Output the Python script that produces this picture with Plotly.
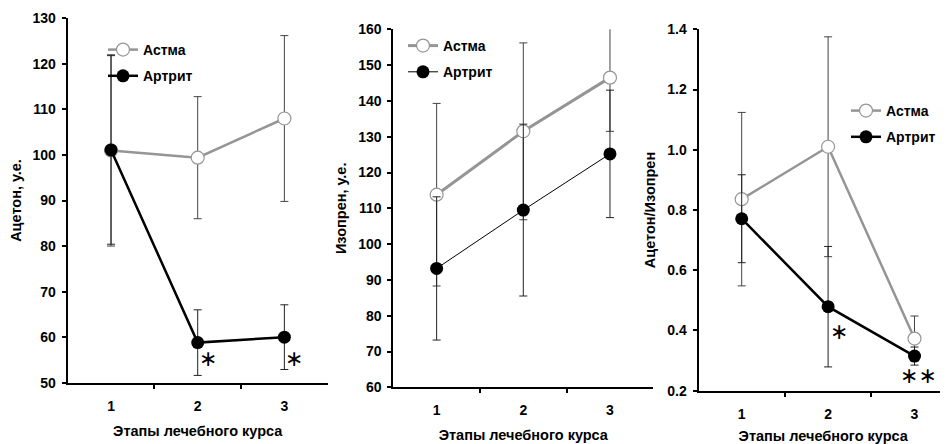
import plotly.graph_objects as go

stages = [1, 2, 3]
stage_labels = ["1", "2", "3"]

aceton_asthma = [101.0, 99.4, 108.0]
aceton_asthma_err = [21.0, 13.4, 18.2]
aceton_arthritis = [101.1, 58.8, 60.0]
aceton_arthritis_err = [20.7, 7.2, 7.1]

isoprene_asthma = [113.8, 131.5, 146.5]
isoprene_asthma_err = [25.5, 24.7, 15.0]
isoprene_arthritis = [93.2, 109.5, 125.2]
isoprene_arthritis_err = [20.0, 24.0, 17.8]

ratio_asthma = [0.836, 1.01, 0.373]
ratio_asthma_err = [0.288, 0.365, 0.075]
ratio_arthritis = [0.771, 0.479, 0.315]
ratio_arthritis_err = [0.146, 0.200, 0.030]

series_names = ["Астма", "Артрит"]
x_title = "Этапы лечебного курса"
y_titles = ["Ацетон, у.е.", "Изопрен, у.е.", "Ацетон/Изопрен"]

# the page body has an 8px margin, so the figure is drawn 8px in from the window edge
OFF = 8
W, H = 948 - OFF, 444 - OFF
GRAY = "#959595"
FONT = "Liberation Sans, Arial, sans-serif"

fig = go.Figure()


def add_pair(xa, ya, leg, a_vals, a_err, b_vals, b_err, a_w, b_w):
    fig.add_trace(go.Scatter(
        x=stages, y=a_vals, name=series_names[0], mode="lines+markers",
        xaxis=xa, yaxis=ya, legend=leg, legendgroup=leg + "a",
        line=dict(color=GRAY, width=a_w),
        marker=dict(symbol="circle", size=13, color="white", line=dict(color=GRAY, width=1.2)),
        error_y=dict(type="data", array=a_err, symmetric=True, color="#444", thickness=1, width=4),
    ))
    fig.add_trace(go.Scatter(
        x=stages, y=b_vals, name=series_names[1], mode="lines+markers",
        xaxis=xa, yaxis=ya, legend=leg, legendgroup=leg + "b",
        line=dict(color="black", width=b_w),
        marker=dict(symbol="circle", size=13, color="black"),
        error_y=dict(type="data", array=b_err, symmetric=True, color="#222", thickness=1, width=4),
    ))


add_pair("x", "y", "legend", aceton_asthma, aceton_asthma_err, aceton_arthritis, aceton_arthritis_err, 2.5, 2.5)
add_pair("x2", "y2", "legend2", isoprene_asthma, isoprene_asthma_err, isoprene_arthritis, isoprene_arthritis_err, 3, 1)
add_pair("x3", "y3", "legend3", ratio_asthma, ratio_asthma_err, ratio_arthritis, ratio_arthritis_err, 2.5, 2.5)

# panel geometry in window pixels
panels = [
    dict(x0=67.7, x1=327.7, ytop=18.3, ybot=382.7, rng=[0.5, 3.5], yr=[50, 130], dt=10, fmt=""),
    dict(x0=393.3, x1=653.3, ytop=29.3, ybot=387.3, rng=[0.5, 3.5], yr=[60, 160], dt=10, fmt=""),
    dict(x0=698.5, x1=948, ytop=29.3, ybot=390.7, rng=[0.5, 0.5 + (948 - 698.5) / 86.4], yr=[0.2, 1.4], dt=0.2, fmt=".1f"),
]


def px(x):
    return (x - OFF) / W


def py(y):
    return 1 - (y - OFF) / H


tickfont = dict(family=FONT, size=14, color="black", weight="bold")
titlefont = dict(family=FONT, size=14.5, color="black", weight="bold")

for i, p in enumerate(panels):
    sfx = "" if i == 0 else str(i + 1)
    fig.layout["xaxis" + sfx] = dict(
        domain=[px(p["x0"]), min(1.0, px(p["x1"]))], range=p["rng"], anchor="y" + sfx,
        tickvals=stages, ticktext=stage_labels, ticks="", showgrid=False, zeroline=False,
        showline=True, linecolor="black", linewidth=2, tickfont=tickfont,
        ticklabelstandoff=9, automargin=False,
        minor=dict(tickvals=[1.5, 2.5], ticks="outside", ticklen=4, tickcolor="black", tickwidth=2, showgrid=False),
        title=dict(text=x_title, font=titlefont, standoff=13),
    )
    fig.layout["yaxis" + sfx] = dict(
        domain=[py(p["ybot"]), py(p["ytop"])], range=p["yr"], anchor="x" + sfx,
        dtick=p["dt"], tick0=p["yr"][0], tickformat=p["fmt"], ticks="outside", ticklen=4,
        tickcolor="black", tickwidth=2, showgrid=False, zeroline=False,
        showline=True, linecolor="black", linewidth=2, tickfont=tickfont,
        ticklabelstandoff=3, automargin=False,
        title=dict(text=y_titles[i], font=titlefont, standoff=8),
    )

legfont = dict(family=FONT, size=14, color="black", weight="bold")
leg_common = dict(bgcolor="rgba(0,0,0,0)", borderwidth=0, font=legfont, tracegroupgap=5,
                  xanchor="left", yanchor="top", itemwidth=30)
fig.update_layout(
    legend=dict(x=px(103), y=py(34), **leg_common),
    legend2=dict(x=px(403), y=py(30), **leg_common),
    legend3=dict(x=px(846), y=py(95), **leg_common),
)

star_font = dict(family="DejaVu Sans", size=22, color="black")
stars = [
    ("x", "y", 2, 55.4, "∗", 10),
    ("x", "y", 3, 55.4, "∗", 10),
    ("x3", "y3", 2, 0.395, "∗", 11),
    ("x3", "y3", 3, 0.252, "∗∗", 4),
]
for xa, ya, xv, yv, t, sh in stars:
    fig.add_annotation(x=xv, y=yv, xref=xa, yref=ya, text=t, showarrow=False,
                       xshift=sh, font=star_font)

fig.update_layout(
    width=W, height=H, margin=dict(l=0, r=0, t=0, b=0),
    paper_bgcolor="white", plot_bgcolor="white", showlegend=True,
)

fig.write_html("out.html")
